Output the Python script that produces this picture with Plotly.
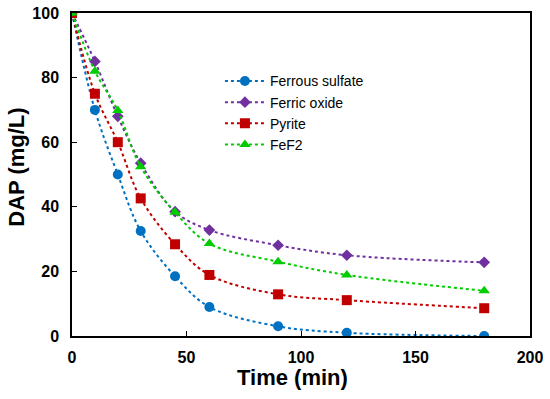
import plotly.graph_objects as go

time_min = [0, 10, 20, 30, 45, 60, 90, 120, 180]
ferrous_sulfate = [100, 70, 50, 32.5, 18.5, 9, 3, 1, 0]
ferric_oxide = [100, 85, 68, 53.5, 38.5, 32.8, 28.1, 25, 22.8]
pyrite = [100, 75, 60, 42.6, 28.4, 18.9, 12.9, 11.1, 8.6]
fef2 = [100, 82, 69.8, 52.4, 38.3, 28.6, 23, 18.9, 14]

series = [
    ("Ferrous sulfate", ferrous_sulfate, "#0070C0", "circle"),
    ("Ferric oxide", ferric_oxide, "#7030A0", "diamond"),
    ("Pyrite", pyrite, "#C00000", "square"),
    ("FeF2", fef2, "#00CC00", "triangle-up"),
]

FONT = "Arial, Liberation Sans, sans-serif"

fig = go.Figure()
for i, (name, vals, color, sym) in enumerate(series):
    fig.add_trace(go.Scatter(
        x=time_min, y=vals, name=name, mode="lines+markers",
        line=dict(color=color, width=2, dash="dot", shape="spline", smoothing=1),
        marker=dict(color=color, symbol=sym, size=10 if sym != "diamond" else 9),
        legendgroup=f"g{i}",
    ))

fig.update_layout(
    width=550, height=399,
    margin=dict(l=72, r=20, t=13, b=63, autoexpand=False),
    plot_bgcolor="white", paper_bgcolor="white",
    font=dict(family=FONT, color="black"),
    showlegend=True,
    legend=dict(x=0.323, y=0.838, xanchor="left", yanchor="top",
                bgcolor="rgba(0,0,0,0)", font=dict(size=14, family=FONT),
                tracegroupgap=0, itemwidth=40),
    xaxis=dict(
        range=[0, 200], tickvals=[0, 50, 100, 150, 200],
        ticks="inside", ticklen=5, tickcolor="black",
        showline=True, linecolor="black", linewidth=1.5, mirror=True,
        showgrid=False, zeroline=False, automargin=False,
        tickfont=dict(size=16, family=FONT, weight="bold"),
        ticklabelstandoff=6,
    ),
    yaxis=dict(
        range=[0, 100], tickvals=[0, 20, 40, 60, 80, 100],
        ticks="inside", ticklen=5, tickcolor="black",
        showline=True, linecolor="black", linewidth=1.5, mirror=True,
        showgrid=False, zeroline=False, automargin=False,
        tickfont=dict(size=16, family=FONT, weight="bold"),
        ticklabelstandoff=8,
    ),
    annotations=[
        dict(text="<b>Time (min)</b>", xref="paper", yref="paper",
             x=0.481, y=-0.13, xanchor="center", yanchor="middle",
             showarrow=False, font=dict(size=22, family=FONT)),
        dict(text="<b>DAP (mg/L)</b>", xref="paper", yref="paper",
             x=-0.123, y=0.523, xanchor="center", yanchor="middle",
             textangle=-90, showarrow=False, font=dict(size=22, family=FONT)),
    ],
)

fig.write_html("out.html", config={"displayModeBar": False},
               post_script="document.body.style.margin='0';document.body.style.overflow='hidden';")
